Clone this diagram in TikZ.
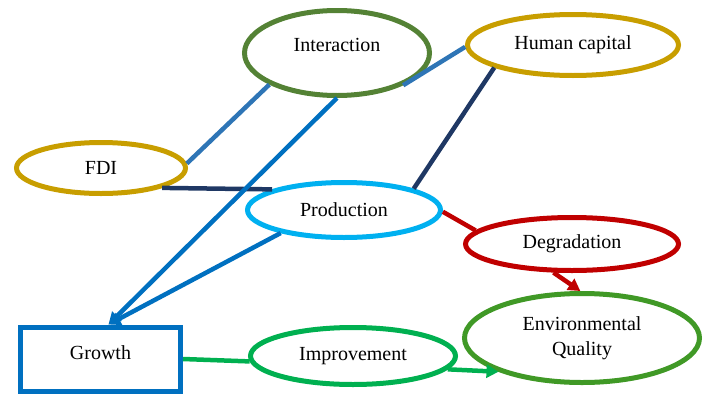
\documentclass[tikz,border=0pt]{standalone}
\usepackage{fontspec}
\setmainfont{Liberation Serif}
\usetikzlibrary{shapes.geometric,arrows.meta}
\definecolor{interG}{RGB}{84,130,53}
\definecolor{goldC}{RGB}{200,158,0}
\definecolor{prodB}{RGB}{0,176,240}
\definecolor{degR}{RGB}{192,0,0}
\definecolor{envG}{RGB}{64,153,38}
\definecolor{impG}{RGB}{0,176,80}
\definecolor{growB}{RGB}{0,112,192}
\definecolor{steelL}{RGB}{46,117,182}
\definecolor{navyL}{RGB}{31,56,100}
\tikzset{
  oval/.style={ellipse, draw, line width=5pt, inner sep=0pt, align=center,
    font=\fontsize{20}{25}\selectfont},
  conn/.style={line width=4.5pt},
  tip/.style={-{Triangle[length=12pt,width=13pt]}},
}
\begin{document}
\begin{tikzpicture}[x=1pt,y=-1pt]
\useasboundingbox (0,0) rectangle (707,394);
\node[oval, draw=interG, minimum width=185pt, minimum height=85pt, text height=13pt, text depth=16pt] (inter) at (337,53) {Interaction};
\node[oval, draw=goldC, minimum width=211pt, minimum height=61pt] (human) at (573,45) {Human capital};
\node[oval, draw=goldC, minimum width=169pt, minimum height=51pt] (fdi) at (101,168) {FDI};
\node[oval, draw=prodB, minimum width=193pt, minimum height=55pt] (prod) at (344,210) {Production};
\node[oval, draw=degR, minimum width=213pt, minimum height=53pt] (deg) at (572,244) {Degradation};
\node[oval, draw=envG, minimum width=235pt, minimum height=89pt] (env) at (582,338) {Environmental\\Quality};
\node[oval, draw=impG, minimum width=205pt, minimum height=57pt] (imp) at (353,356) {Improvement};
\node[rectangle, draw=growB, line width=5pt, inner sep=0pt, minimum width=160pt, minimum height=64pt,
  text height=14pt, text depth=14pt, font=\fontsize{20}{25}\selectfont] (growth) at (100.5,359) {Growth};

\draw[conn, steelL] (fdi.3) -- (inter.205.5);
\draw[conn, navyL] (fdi.342) -- (prod.164);
\draw[conn, growB, tip] (inter.270) -- (growth.77);
\draw[conn, growB, tip] (prod.200) -- (growth.77);
\draw[conn, steelL] (inter.334) -- (human.181);
\draw[conn, navyL] (human.196) -- (prod.17);
\draw[conn, degR] (prod.359) -- (deg.172);
\draw[conn, degR, tip] (deg.237) -- (env.92);
\draw[conn, impG] (growth.east) -- (imp.183);
\draw[conn, impG, tip] (imp.352) -- (env.202);
\end{tikzpicture}
\end{document}
